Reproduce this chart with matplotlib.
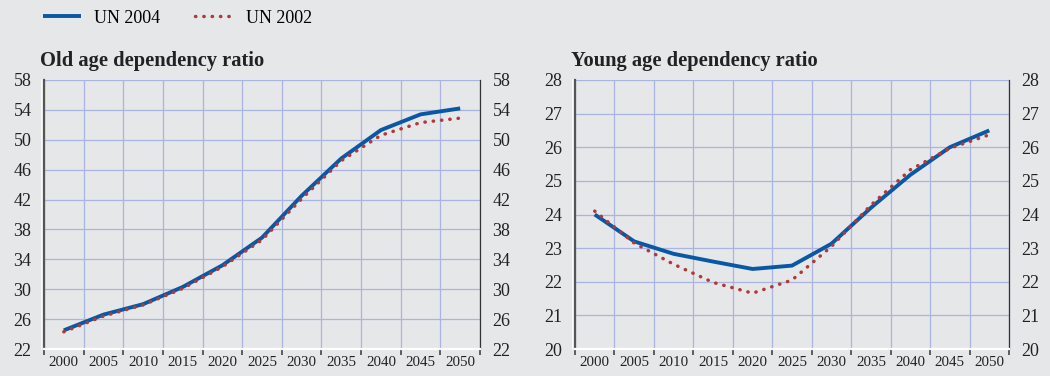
import matplotlib
matplotlib.use("Agg")
import matplotlib.pyplot as plt
import matplotlib.transforms as mtransforms
from matplotlib.lines import Line2D

years = ["2000", "2005", "2010", "2015", "2020", "2025", "2030", "2035", "2040", "2045", "2050"]

old_un2004 = [24.5, 26.6, 28.0, 30.3, 33.2, 36.9, 42.5, 47.5, 51.3, 53.4, 54.2]
old_un2002 = [24.3, 26.4, 27.9, 30.1, 33.0, 36.6, 42.1, 47.2, 50.6, 52.3, 52.9]

young_un2004 = [24.0, 23.2, 22.83, 22.6, 22.38, 22.48, 23.13, 24.2, 25.18, 26.0, 26.5]
young_un2002 = [24.1, 23.15, 22.52, 21.98, 21.66, 22.05, 23.05, 24.28, 25.33, 25.97, 26.37]

old_ticks = list(range(22, 59, 4))
young_ticks = list(range(20, 29))

BG = "#e6e7e9"
GRID = "#a9b4e0"
BLUE = "#0a58a3"
RED = "#b0393a"
SPINE = "#555555"
DOTS = (0, (0.1, 2.3))

plt.rcParams["font.family"] = ["Liberation Serif", "DejaVu Serif"]

fig = plt.figure(figsize=(10.5, 3.76), dpi=100, facecolor=BG)
ax_old = fig.add_axes([44 / 1050, 1 - 349 / 376, 436 / 1050, 269 / 376])
ax_young = fig.add_axes([575 / 1050, 1 - 349 / 376, 434 / 1050, 269 / 376])


def style_panel(ax, a2004, a2002, ticks, title):
    ax.set_facecolor(BG)
    x = range(len(years))
    ax.plot(x, a2004, color=BLUE, lw=2.8, solid_capstyle="butt", zorder=3)
    ax.plot(x, a2002, color=RED, lw=2.5, linestyle=DOTS,
            dash_capstyle="round", zorder=4)
    ax.set_xlim(-0.5, len(years) - 0.5)
    ax.set_ylim(ticks[0], ticks[-1])
    ax.set_yticks(ticks)
    ax.set_xticks(list(x))
    ax.set_xticklabels(years, fontsize=10.8)
    ax.set_xticks([i - 0.5 for i in range(len(years) + 1)], minor=True)
    ax.tick_params(axis="x", which="major", length=0, pad=5, labelcolor="#222222")
    ax.tick_params(axis="x", which="minor", length=4, width=1.2,
                   color="#444444", direction="out")
    ax.tick_params(axis="y", length=0, labelsize=13, labelright=True,
                   pad=9, labelcolor="#222222")
    ax.grid(True, axis="y", color=GRID, lw=0.9)
    ax.grid(True, axis="x", which="minor", color=GRID, lw=0.9)
    ax.set_axisbelow(True)
    ax.spines["top"].set_visible(False)
    ax.spines["left"].set_color(SPINE)
    ax.spines["left"].set_linewidth(1.6)
    ax.spines["right"].set_color("#333333")
    ax.spines["right"].set_linewidth(0.9)
    ax.spines["bottom"].set_color("white")
    ax.spines["bottom"].set_linewidth(1.6)
    # light edge just outside the left axis line
    shift = mtransforms.offset_copy(ax.transAxes, fig=fig, x=-2, y=0, units="dots")
    ax.add_line(Line2D([0, 0], [0, 1], transform=shift, color="white",
                       lw=1.2, clip_on=False))
    ax.text(-0.01, 1.035, title, transform=ax.transAxes, fontsize=14.8,
            fontweight="bold", color="#222222", ha="left", va="bottom")


style_panel(ax_old, old_un2004, old_un2002, old_ticks, "Old age dependency ratio")
style_panel(ax_young, young_un2004, young_un2002, young_ticks, "Young age dependency ratio")

handles = [
    Line2D([], [], color=BLUE, lw=2.8, solid_capstyle="butt"),
    Line2D([], [], color=RED, lw=2.5, linestyle=DOTS, dash_capstyle="round"),
]
fig.legend(handles, ["UN 2004", "UN 2002"], loc="upper left",
           bbox_to_anchor=(39 / 1050, 1 - 6 / 376), ncol=2, frameon=False,
           borderaxespad=0, borderpad=0.2,
           fontsize=13, handlelength=2.1, handletextpad=0.75, columnspacing=1.9)

fig.savefig("out.png", dpi=100, facecolor=BG)
